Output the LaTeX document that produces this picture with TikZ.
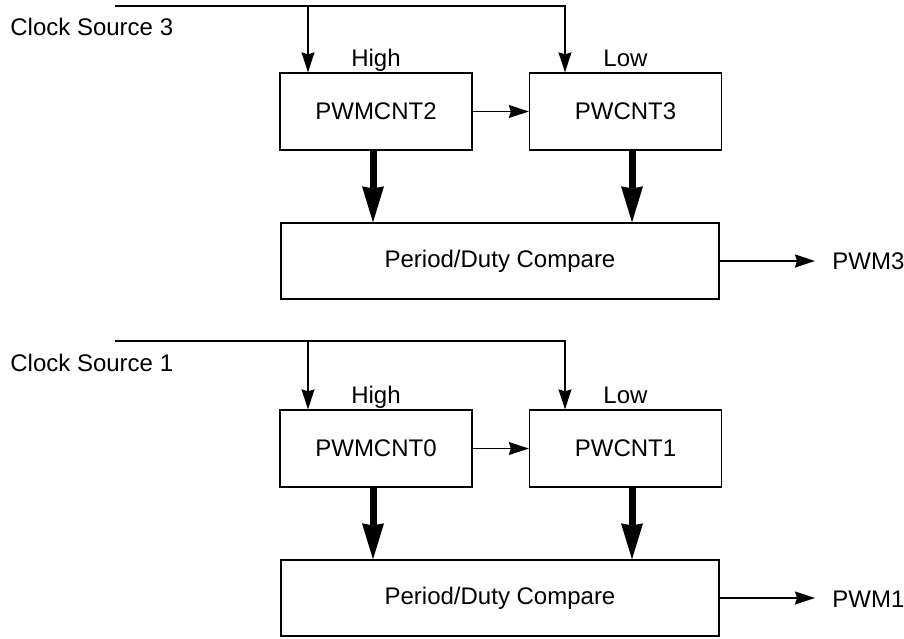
\documentclass[tikz,border=0pt]{standalone}
\usepackage{fontspec}
\setmainfont{Liberation Sans}
\usetikzlibrary{arrows.meta}
\tikzset{
  block/.style={draw, line width=0.65pt, minimum width=96pt, minimum height=38.5pt, inner sep=0pt},
  wide block/.style={block, minimum width=219pt, minimum height=38pt},
  sig/.style={line width=0.65pt},
  sig arrow/.style={sig, -{Stealth[length=10pt,width=6.5pt,inset=1pt]}},
  bus arrow/.style={line width=3.5pt, -{Stealth[length=18pt,width=11pt,inset=1pt,line width=0pt]}},
}
\begin{document}
\begin{tikzpicture}[x=0.5pt, y=-0.5pt, font=\fontsize{12}{14}\selectfont]
    \useasboundingbox (0,0) rectangle (904,638);
    % upper pair: PWM3
    \coordinate (src3w) at (115,6);
    \coordinate (src3t) at (308,6);
    \coordinate (src3e) at (565,6);
    \node[anchor=base west, inner sep=0pt] (src3) at (10,35) {Clock Source 3};
    \node[block] (cnt2) at (376,111.5) {PWMCNT2};
    \node[block] (cnt3) at (625.5,111.5) {PWCNT3};
    \node[anchor=base, inner sep=0pt] (hi3) at ([yshift=3pt]cnt2.north) {High};
    \node[anchor=base, inner sep=0pt] (lo3) at ([yshift=3pt]cnt3.north) {Low};
    \node[wide block] (cmp3) at (500,261) {Period/Duty Compare};
    \node[anchor=west, inner sep=0pt] (pwm3) at (832,261) {PWM3};
    \draw[sig arrow] (src3w) -- (src3e) -- (src3e |- cnt3.north);
    \draw[sig arrow] (src3t) -- (src3t |- cnt2.north);
    \draw[sig arrow] (cnt2) -- (cnt3);
    \draw[bus arrow] ([xshift=-1.5pt]cnt2.south) -- ([xshift=-1.5pt]cnt2.south |- cmp3.north);
    \draw[bus arrow] ([xshift=3.25pt]cnt3.south) -- ([xshift=3.25pt]cnt3.south |- cmp3.north);
    \draw[sig arrow, shorten >=8.5pt] (cmp3.east) -- (cmp3.east -| pwm3.west);
    % lower pair: PWM1
    \coordinate (src1w) at (115,341);
    \coordinate (src1t) at (308,341);
    \coordinate (src1e) at (565,341);
    \node[anchor=base west, inner sep=0pt] (src1) at (10,371) {Clock Source 1};
    \node[block] (cnt0) at (376,448.5) {PWMCNT0};
    \node[block] (cnt1) at (625.5,448.5) {PWCNT1};
    \node[anchor=base, inner sep=0pt] (hi1) at ([yshift=3pt]cnt0.north) {High};
    \node[anchor=base, inner sep=0pt] (lo1) at ([yshift=3pt]cnt1.north) {Low};
    \node[wide block] (cmp1) at (500,598) {Period/Duty Compare};
    \node[anchor=west, inner sep=0pt] (pwm1) at (832,599) {PWM1};
    \draw[sig arrow] (src1w) -- (src1e) -- (src1e |- cnt1.north);
    \draw[sig arrow] (src1t) -- (src1t |- cnt0.north);
    \draw[sig arrow] (cnt0) -- (cnt1);
    \draw[bus arrow] ([xshift=-1.5pt]cnt0.south) -- ([xshift=-1.5pt]cnt0.south |- cmp1.north);
    \draw[bus arrow] ([xshift=3.25pt]cnt1.south) -- ([xshift=3.25pt]cnt1.south |- cmp1.north);
    \draw[sig arrow, shorten >=8.5pt] (cmp1.east) -- (cmp1.east -| pwm1.west);
\end{tikzpicture}
\end{document}
